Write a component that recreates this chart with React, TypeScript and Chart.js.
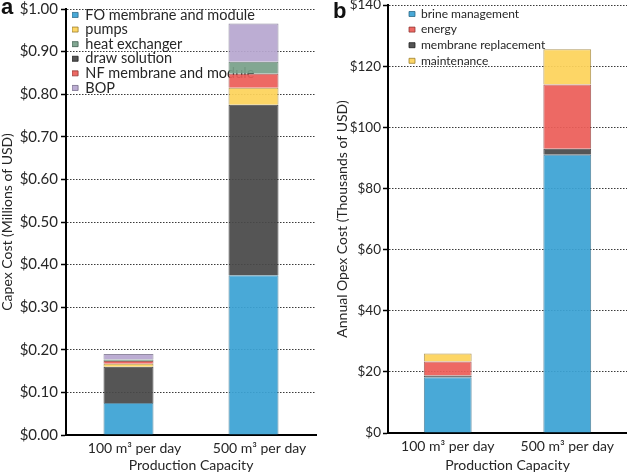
import React, { useEffect, useRef } from "react";
import { Chart, registerables } from "chart.js";

Chart.register(...registerables);

// ---------- data ----------
const categories = ["100 m³ per day", "500 m³ per day"];

// Capex (millions of USD), stacked bottom -> top
const capexFO = [0.075, 0.375];
const capexDraw = [0.085, 0.4];
const capexPumps = [0.007, 0.04];
const capexNF = [0.007, 0.033];
const capexHeat = [0.003, 0.028];
const capexBOP = [0.013, 0.09];

// Opex (thousands of USD), stacked bottom -> top
const opexBrine = [18.2, 91];
const opexMembrane = [0.6, 2];
const opexEnergy = [4.6, 21];
const opexMaintenance = [2.6, 11.5];

const capexLegendOrder = [0, 2, 4, 1, 3, 5];
const opexLegendOrder = [0, 2, 1, 3];

const FONT = "Lato";
const TEXT = "#262626";

const C = {
  blue: "rgba(59,163,212,0.93)",
  blueB: "rgba(40,100,130,0.75)",
  dark: "rgba(72,72,72,0.93)",
  darkB: "rgba(30,30,30,0.8)",
  yellow: "rgba(253,211,90,0.93)",
  yellowB: "rgba(150,120,40,0.75)",
  red: "rgba(236,94,88,0.93)",
  redB: "rgba(140,50,45,0.75)",
  green: "rgba(121,160,138,0.93)",
  greenB: "rgba(60,90,75,0.75)",
  purple: "rgba(183,167,208,0.93)",
  purpleB: "rgba(110,100,130,0.75)",
};

const legendShift = {
  id: "legendShift",
  afterLayout(chart: any, _args: any, opts: any) {
    if (chart.legend) {
      chart.legend.left += opts.dx || 0;
      chart.legend.top += opts.dy || 0;
    }
  },
};

function ds(label: string, data: number[], bg: string, bc: string) {
  return {
    label,
    data,
    backgroundColor: bg,
    borderColor: bc,
    borderWidth: 1,
    barPercentage: 0.4,
    categoryPercentage: 1,
  };
}

function makeConfig(p: {
  datasets: any[];
  order: number[];
  max: number;
  step: number;
  tickFmt: (v: number) => string;
  tickSize: number;
  tickPad: number;
  yTitle: string;
  yTitleSize: number;
  yTitlePad: number;
  axisW: number;
  top: number;
  xH: number;
  legendFont: number;
  legendPad: number;
  dx: number;
  dy: number;
  labelOffset: number;
  rightPad: number;
}): any {
  return {
    type: "bar",
    data: { labels: categories, datasets: p.datasets },
    plugins: [legendShift],
    options: {
      animation: false,
      responsive: false,
      layout: { padding: { left: 0, right: p.rightPad, top: 0, bottom: 0 } },
      plugins: {
        legendShift: { dx: p.dx, dy: p.dy },
        tooltip: { enabled: false },
        legend: {
          position: "chartArea",
          align: "start",
          labels: {
            boxWidth: 6,
            boxHeight: 5,
            padding: p.legendPad,
            color: TEXT,
            font: { family: FONT, size: p.legendFont },
            sort: (a: any, b: any) => p.order.indexOf(a.datasetIndex) - p.order.indexOf(b.datasetIndex),
          },
        },
      },
      scales: {
        x: {
          stacked: true,
          grid: { display: false, drawTicks: false },
          border: { display: true, color: "#000", width: 2 },
          ticks: {
            color: TEXT,
            font: { family: FONT, size: 14 },
            padding: 5,
            labelOffset: p.labelOffset,
            maxRotation: 0,
          },
          title: {
            display: true,
            text: "Production Capacity",
            color: TEXT,
            font: { family: FONT, size: 14 },
            padding: { top: 0, bottom: 0 },
          },
          afterFit: (s: any) => {
            s.height = p.xH;
          },
        },
        y: {
          stacked: true,
          min: 0,
          max: p.max,
          ticks: {
            stepSize: p.step,
            color: TEXT,
            font: { family: FONT, size: p.tickSize },
            padding: p.tickPad,
            callback: (v: any) => p.tickFmt(Number(v)),
          },
          grid: {
            color: "#3a3a3a",
            lineWidth: 1,
            tickLength: 5,
            tickColor: "#000",
            tickWidth: 1.5,
            tickBorderDash: [],
          },
          border: { display: true, color: "#000", width: 2, dash: [1.5, 1.5] },
          title: {
            display: true,
            text: p.yTitle,
            color: TEXT,
            font: { family: FONT, size: p.yTitleSize, lineHeight: 1 },
            padding: { top: p.yTitlePad, bottom: 0 },
          },
          afterFit: (s: any) => {
            s.width = p.axisW;
            s.paddingTop = p.top;
          },
        },
      },
    },
  };
}

function ChartCanvas({ config, width, height }: { config: any; width: number; height: number }) {
  const ref = useRef<HTMLCanvasElement | null>(null);
  useEffect(() => {
    if (!ref.current) return;
    const chart = new Chart(ref.current, config);
    return () => chart.destroy();
  }, []);
  return <canvas ref={ref} width={width} height={height} style={{ display: "block" }} />;
}

export default function App() {
  const capexConfig = makeConfig({
    datasets: [
      ds("FO membrane and module", capexFO, C.blue, C.blueB),
      ds("draw solution", capexDraw, C.dark, C.darkB),
      ds("pumps", capexPumps, C.yellow, C.yellowB),
      ds("NF membrane and module", capexNF, C.red, C.redB),
      ds("heat exchanger", capexHeat, C.green, C.greenB),
      ds("BOP", capexBOP, C.purple, C.purpleB),
    ],
    order: capexLegendOrder,
    max: 1.0,
    step: 0.1,
    tickFmt: (v) => "$" + v.toFixed(2),
    tickSize: 15,
    tickPad: 3,
    yTitle: "Capex Cost (Millions of USD)",
    yTitleSize: 14,
    yTitlePad: 0,
    axisW: 66,
    top: 9,
    xH: 39,
    legendFont: 14.5,
    legendPad: 0.1,
    dx: 6,
    dy: 7.6,
    labelOffset: 6,
    rightPad: 2,
  });

  const opexConfig = makeConfig({
    datasets: [
      ds("brine management", opexBrine, C.blue, C.blueB),
      ds("membrane replacement", opexMembrane, C.dark, C.darkB),
      ds("energy", opexEnergy, C.red, C.redB),
      ds("maintenance", opexMaintenance, C.yellow, C.yellowB),
    ],
    order: opexLegendOrder,
    max: 140,
    step: 20,
    tickFmt: (v) => "$" + Math.round(v),
    tickSize: 13.5,
    tickPad: 2,
    yTitle: "Annual Opex Cost (Thousands of USD)",
    yTitleSize: 14,
    yTitlePad: 17,
    axisW: 70,
    top: 5,
    xH: 41,
    legendFont: 12,
    legendPad: 3.6,
    dx: 17.4,
    dy: 4.4,
    labelOffset: 0,
    rightPad: 0,
  });

  const letter: React.CSSProperties = {
    position: "absolute",
    fontFamily: "'Liberation Sans', Arial, sans-serif",
    fontWeight: "bold",
    fontSize: 22,
    lineHeight: "22px",
    color: "#111",
  };

  return (
    <div style={{ position: "absolute", left: 0, top: 0, width: 627, height: 474, background: "#fff", overflow: "hidden" }}>
      <div style={{ position: "absolute", left: 0, top: 0 }}>
        <ChartCanvas config={capexConfig} width={318} height={474} />
      </div>
      <div style={{ position: "absolute", left: 318, top: 0 }}>
        <ChartCanvas config={opexConfig} width={309} height={474} />
      </div>
      <div style={{ ...letter, left: 1, top: -4 }}>a</div>
      <div style={{ ...letter, left: 333, top: 0 }}>b</div>
    </div>
  );
}
